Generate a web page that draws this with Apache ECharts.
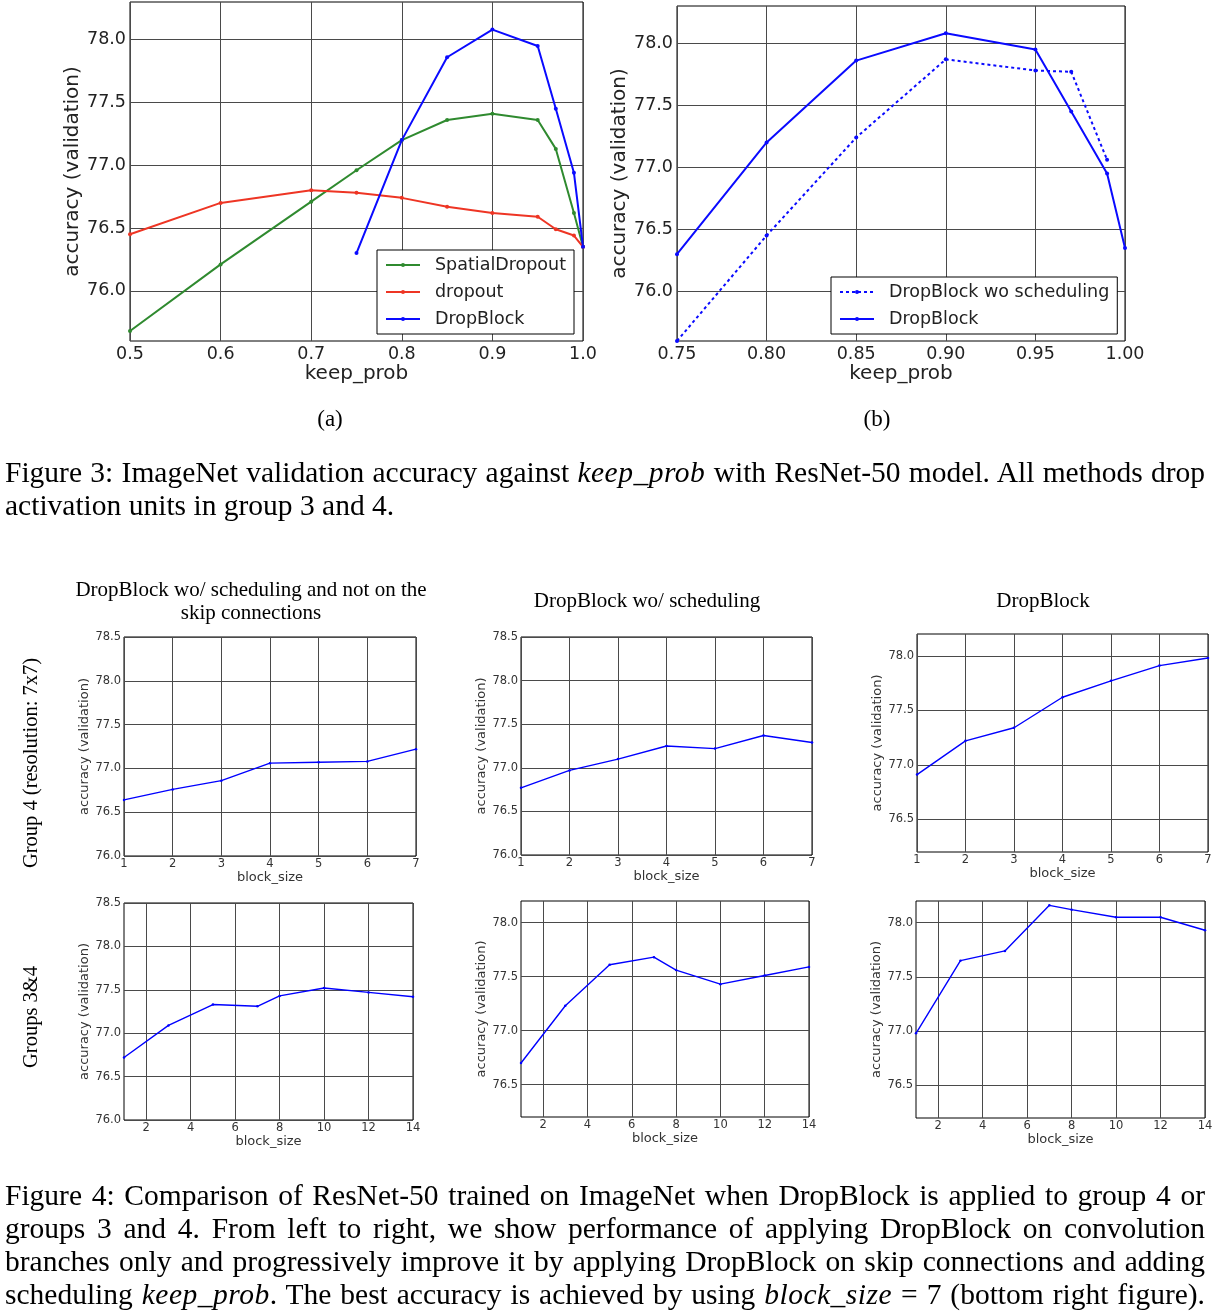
<!DOCTYPE html>
<html>
<head>
<meta charset="utf-8">
<script src="https://cdn.jsdelivr.net/npm/echarts@6/dist/echarts.min.js"></script>
<style>
html,body{margin:0;padding:0;background:#fff;}
#chart{position:absolute;left:0;top:0;width:1218px;height:1312px;}
.cap{position:absolute;left:5px;width:1200px;font-family:'Liberation Serif','Times New Roman',serif;font-size:29.5px;line-height:33px;color:#000;}
.cap div{white-space:nowrap;}
.cap .j{text-align:justify;text-align-last:justify;}
.cap i{letter-spacing:0.5px;}
</style>
</head>
<body>
<div id="chart"></div>
<div class="cap" style="top:456px">
<div class="j">Figure 3: ImageNet validation accuracy against <i>keep_prob</i> with ResNet-50 model. All methods drop</div>
<div>activation units in group 3 and 4.</div>
</div>
<div class="cap" style="top:1179px">
<div class="j">Figure 4: Comparison of ResNet-50 trained on ImageNet when DropBlock is applied to group 4 or</div>
<div class="j">groups 3 and 4. From left to right, we show performance of applying DropBlock on convolution</div>
<div class="j">branches only and progressively improve it by applying DropBlock on skip connections and adding</div>
<div class="j">scheduling <i>keep_prob</i>. The best accuracy is achieved by using <i>block_size</i> = 7 (bottom right figure).</div>
</div>
<script>
// ---------- Data: Figure 3 (a) ----------
const keepProbA = [0.5, 0.6, 0.7, 0.75, 0.8, 0.85, 0.9, 0.95, 0.97, 0.99, 1.0];
const spatialDropoutA = [75.68, 76.21, 76.71, 76.96, 77.20, 77.36, 77.41, 77.36, 77.13, 76.62, 76.35];
const dropoutA = [76.45, 76.70, 76.80, 76.78, 76.74, 76.67, 76.62, 76.59, 76.49, 76.44, 76.35];
const keepProbDropBlockA = [0.75, 0.8, 0.85, 0.9, 0.95, 0.97, 0.99, 1.0];
const dropBlockA = [76.30, 77.20, 77.86, 78.08, 77.95, 77.45, 76.94, 76.35];

// ---------- Data: Figure 3 (b) ----------
const keepProbB = [0.75, 0.8, 0.85, 0.9, 0.95, 0.97, 0.99, 1.0];
const dropBlockB = [76.30, 77.20, 77.86, 78.08, 77.95, 77.45, 76.95, 76.35];
const keepProbWoSchedB = [0.75, 0.8, 0.85, 0.9, 0.95, 0.97, 0.99];
const dropBlockWoSchedB = [75.60, 76.45, 77.24, 77.87, 77.78, 77.77, 77.06];

// ---------- Data: Figure 4 ----------
const blockSizeG4 = [1, 2, 3, 4, 5, 6, 7];
const g4NoSkip = [76.64, 76.76, 76.86, 77.06, 77.07, 77.08, 77.22];
const g4WoSched = [76.77, 76.97, 77.10, 77.25, 77.22, 77.37, 77.29];
const g4DropBlock = [76.91, 77.22, 77.34, 77.62, 77.77, 77.91, 77.98];
const blockSizeG34 = [1, 3, 5, 7, 8, 10, 12, 14];
const g34NoSkip = [76.72, 77.09, 77.33, 77.31, 77.43, 77.52, 77.47, 77.42];
const g34WoSched = [76.70, 77.23, 77.61, 77.68, 77.56, 77.43, 77.51, 77.59];
const g34DropBlock = [76.98, 77.65, 77.74, 78.16, 78.12, 78.05, 78.05, 77.93];

// ---------- Tick labels ----------
const yTicksFig3 = [76.0, 76.5, 77.0, 77.5, 78.0];
const yTicksWide = [76.0, 76.5, 77.0, 77.5, 78.0, 78.5];
const yTicksNarrow = [76.5, 77.0, 77.5, 78.0];
const xTicksG34 = [2, 4, 6, 8, 10, 12, 14];

// ---------- Titles ----------
const colTitles = [['DropBlock wo/ scheduling and not on the', 'skip connections'], ['DropBlock wo/ scheduling'], ['DropBlock']];
const rowTitles = ['Group 4 (resolution: 7x7)', 'Groups 3&4'];

const SANS = 'DejaVu Sans';
const SERIF = 'Liberation Serif';
const GRIDC = '#4a4a4a';

function zip(xs, ys) { return xs.map((x, i) => [x, ys[i]]); }

const grids = [
  [130, 2, 453, 339],
  [677, 6, 448, 335],
  [124, 637, 292, 219],
  [521, 637, 291, 218],
  [917, 634, 291, 218],
  [124, 903, 289, 217],
  [521, 901, 288, 216],
  [916, 901, 289, 217]
].map(g => ({left: g[0], top: g[1], width: g[2], height: g[3], show: true, borderColor: '#000', borderWidth: 1,
  backgroundColor: 'rgba(0,0,0,0)', containLabel: false, outerBoundsMode: 'none'}));

function xAxisBig(idx, min, max, interval, dec) {
  return {gridIndex: idx, type: 'value', min: min, max: max, interval: interval,
    axisLine: {show: false}, axisTick: {show: false},
    axisLabel: {fontFamily: SANS, fontSize: 17.5, color: '#222', margin: 4, formatter: v => v.toFixed(dec), hideOverlap: false},
    splitLine: {show: true, lineStyle: {color: GRIDC, width: 1}},
    name: 'keep_prob', nameLocation: 'middle', nameGap: 22,
    nameTextStyle: {fontFamily: SANS, fontSize: 20, color: '#222'}};
}
function yAxisBig(idx) {
  return {gridIndex: idx, type: 'value', min: 75.6, max: 78.3,
    axisLine: {show: false}, axisTick: {show: false, customValues: yTicksFig3},
    axisLabel: {customValues: yTicksFig3, fontFamily: SANS, fontSize: 17.5, color: '#222', margin: 4, formatter: v => v.toFixed(1), hideOverlap: false},
    splitLine: {show: true, lineStyle: {color: GRIDC, width: 1}},
    name: 'accuracy (validation)', nameLocation: 'middle', nameGap: 43,
    nameTextStyle: {fontFamily: SANS, fontSize: 20, color: '#222'}};
}
function xAxisSmall(idx, max, ticks) {
  const a = {gridIndex: idx, type: 'value', min: 1, max: max,
    axisLine: {show: false},
    axisTick: {show: false},
    axisLabel: {fontFamily: SANS, fontSize: 11.5, color: '#333', margin: 2, hideOverlap: false},
    splitLine: {show: true, lineStyle: {color: GRIDC, width: 1}},
    name: 'block_size', nameLocation: 'middle', nameGap: 14,
    nameTextStyle: {fontFamily: SANS, fontSize: 13, color: '#333'}};
  if (ticks) { a.axisTick.customValues = ticks; a.axisLabel.customValues = ticks; }
  else { a.interval = 1; }
  return a;
}
function yAxisSmall(idx, min, max, ticks) {
  return {gridIndex: idx, type: 'value', min: min, max: max,
    axisLine: {show: false}, axisTick: {show: false, customValues: ticks},
    axisLabel: {customValues: ticks, fontFamily: SANS, fontSize: 11.5, color: '#333', margin: 3, formatter: v => v.toFixed(1), hideOverlap: false},
    splitLine: {show: true, lineStyle: {color: GRIDC, width: 1}},
    name: 'accuracy (validation)', nameLocation: 'middle', nameGap: 29,
    nameTextStyle: {fontFamily: SANS, fontSize: 13, color: '#333'}};
}

const xAxes = [
  xAxisBig(0, 0.5, 1.0, 0.1, 1),
  xAxisBig(1, 0.75, 1.0, 0.05, 2),
  xAxisSmall(2, 7), xAxisSmall(3, 7), xAxisSmall(4, 7),
  xAxisSmall(5, 14, xTicksG34), xAxisSmall(6, 14, xTicksG34), xAxisSmall(7, 14, xTicksG34)
];
const yAxes = [
  yAxisBig(0), yAxisBig(1),
  yAxisSmall(2, 76.0, 78.5, yTicksWide), yAxisSmall(3, 76.0, 78.5, yTicksWide), yAxisSmall(4, 76.2, 78.2, yTicksNarrow),
  yAxisSmall(5, 76.0, 78.5, yTicksWide), yAxisSmall(6, 76.2, 78.2, yTicksNarrow), yAxisSmall(7, 76.2, 78.2, yTicksNarrow)
];

function bigLine(name, idx, xs, ys, color, dash) {
  return {name: name, type: 'line', xAxisIndex: idx, yAxisIndex: idx, data: zip(xs, ys),
    color: color, symbol: 'circle', symbolSize: 4, showSymbol: true, showAllSymbol: true,
    itemStyle: {color: color}, lineStyle: {color: color, width: 2, type: dash || 'solid'},
    emphasis: {disabled: true}, animation: false, z: 3};
}
function smallLine(idx, xs, ys) {
  return {name: 'acc' + idx, type: 'line', xAxisIndex: idx, yAxisIndex: idx, data: zip(xs, ys),
    color: '#0000ff', symbol: 'circle', symbolSize: 2.5, showSymbol: true,
    itemStyle: {color: '#0000ff'}, lineStyle: {color: '#0000ff', width: 1.4},
    emphasis: {disabled: true}, animation: false, z: 3};
}

const series = [
  bigLine('SpatialDropout', 0, keepProbA, spatialDropoutA, '#2f8a2f'),
  bigLine('dropout', 0, keepProbA, dropoutA, '#ee3524'),
  bigLine('DropBlock', 0, keepProbDropBlockA, dropBlockA, '#0a0aff'),
  bigLine('DropBlock wo scheduling', 1, keepProbWoSchedB, dropBlockWoSchedB, '#0a0aff', [3, 3]),
  bigLine('DropBlock', 1, keepProbB, dropBlockB, '#0a0aff'),
  smallLine(2, blockSizeG4, g4NoSkip),
  smallLine(3, blockSizeG4, g4WoSched),
  smallLine(4, blockSizeG4, g4DropBlock),
  smallLine(5, blockSizeG34, g34NoSkip),
  smallLine(6, blockSizeG34, g34WoSched),
  smallLine(7, blockSizeG34, g34DropBlock)
];

const legendCommon = {orient: 'vertical', itemWidth: 34, itemHeight: 5, itemGap: 9, padding: [6, 8, 6, 8],
  borderColor: '#000', borderWidth: 1, borderRadius: 0, backgroundColor: '#fff', selectedMode: false,
  textStyle: {fontFamily: SANS, fontSize: 17.5, color: '#222', padding: [0, 0, 0, 10]}, z: 10};
const legends = [
  Object.assign({}, legendCommon, {data: ['SpatialDropout', 'dropout', 'DropBlock'], left: 377, top: 250}),
  Object.assign({}, legendCommon, {data: ['DropBlock wo scheduling', 'DropBlock'], left: 831, top: 277})
];

function txt(text, x, y, size, rot) {
  return {type: 'text', x: x, y: y, rotation: rot || 0, silent: true,
    style: {text: text, font: size + 'px "' + SERIF + '"', fill: '#000', align: 'center', verticalAlign: 'middle'}};
}
const graphics = [
  txt('(a)', 330, 420, 23),
  txt('(b)', 877, 420, 23),
  txt(colTitles[0][0], 251, 590, 21),
  txt(colTitles[0][1], 251, 613, 21),
  txt(colTitles[1][0], 647, 601, 21),
  txt(colTitles[2][0], 1043, 601, 21),
  txt(rowTitles[0], 32, 763, 20.5, Math.PI / 2),
  txt(rowTitles[1], 32, 1017, 20.5, Math.PI / 2)
];

const chart = echarts.init(document.getElementById('chart'), null, {renderer: 'canvas', width: 1218, height: 1312});
chart.setOption({
  animation: false,
  backgroundColor: '#fff',
  grid: grids,
  xAxis: xAxes,
  yAxis: yAxes,
  legend: legends,
  series: series,
  graphic: graphics
});
</script>
</body>
</html>
